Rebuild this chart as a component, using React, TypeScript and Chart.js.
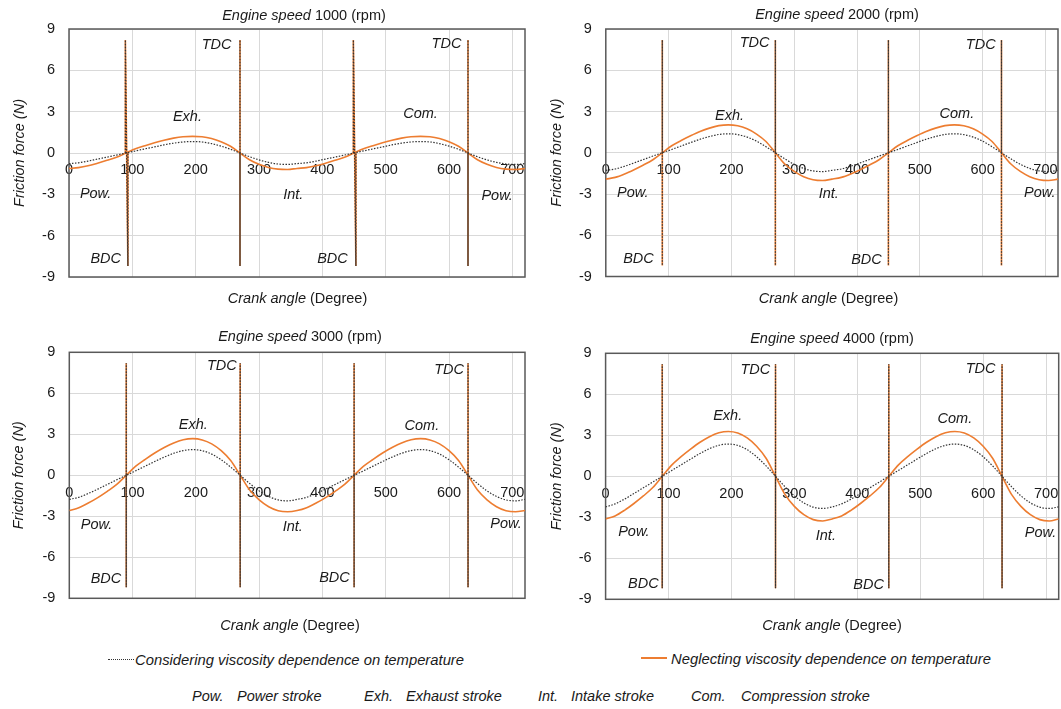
import React, { useEffect, useRef } from 'react';
import { Chart, registerables } from 'chart.js';

Chart.register(...registerables);

const FONT = '"Liberation Sans", Arial, sans-serif';
const FS = 14.5;
const ORANGE = '#ED7D31';
const DOTTED = '#333333';
const GRID = '#d9d9d9';
const TEXT = '#1a1a1a';

// ---------- data ----------
const crankAngles = [
  0, 15, 30, 45, 60, 75, 90, 105, 120, 135, 150, 165, 180, 195, 210, 225, 240, 255, 270, 285, 300, 315, 330, 345, 360,
  375, 390, 405, 420, 435, 450, 465, 480, 495, 510, 525, 540, 555, 570, 585, 600, 615, 630, 645, 660, 675, 690, 705, 720,
];

const engineSpeeds = [1000, 2000, 3000, 4000];

const considering1000 = [
  -0.77, -0.71, -0.59, -0.44, -0.3, -0.15, 0, 0.15, 0.3, 0.44, 0.59, 0.71, 0.8, 0.83, 0.8, 0.68, 0.5, 0.27, 0, -0.27, -0.5, -0.68, -0.8, -0.83, -0.77,
  -0.71, -0.59, -0.44, -0.3, -0.15, 0, 0.15, 0.3, 0.44, 0.59, 0.71, 0.8, 0.83, 0.8, 0.68, 0.5, 0.27, 0, -0.27, -0.5, -0.68, -0.8, -0.83, -0.77,
];
const neglecting1000 = [
  -1.12, -1.06, -0.93, -0.74, -0.53, -0.31, 0, 0.31, 0.53, 0.74, 0.93, 1.08, 1.18, 1.21, 1.18, 1.05, 0.82, 0.49, 0, -0.49, -0.82, -1.05, -1.17, -1.2, -1.12,
  -1.06, -0.93, -0.74, -0.53, -0.31, 0, 0.31, 0.53, 0.74, 0.93, 1.08, 1.18, 1.21, 1.18, 1.05, 0.82, 0.49, 0, -0.49, -0.82, -1.05, -1.17, -1.2, -1.12,
];
const considering2000 = [
  -1.28, -1.18, -0.98, -0.74, -0.49, -0.24, 0, 0.24, 0.49, 0.74, 0.98, 1.18, 1.33, 1.38, 1.32, 1.14, 0.84, 0.44, 0, -0.44, -0.84, -1.14, -1.32, -1.37, -1.28,
  -1.18, -0.98, -0.74, -0.49, -0.24, 0, 0.24, 0.49, 0.74, 0.98, 1.18, 1.33, 1.38, 1.32, 1.14, 0.84, 0.44, 0, -0.44, -0.84, -1.14, -1.32, -1.37, -1.28,
];
const neglecting2000 = [
  -1.92, -1.79, -1.54, -1.23, -0.89, -0.51, 0, 0.51, 0.89, 1.23, 1.54, 1.79, 1.97, 2.03, 1.96, 1.74, 1.36, 0.82, 0, -0.82, -1.36, -1.74, -1.96, -2.02, -1.92,
  -1.79, -1.54, -1.23, -0.89, -0.51, 0, 0.51, 0.89, 1.23, 1.54, 1.79, 1.97, 2.03, 1.96, 1.74, 1.36, 0.82, 0, -0.82, -1.36, -1.74, -1.96, -2.02, -1.92,
];
const considering3000 = [
  -1.76, -1.61, -1.33, -1.01, -0.67, -0.33, 0, 0.33, 0.67, 1.01, 1.33, 1.61, 1.81, 1.88, 1.8, 1.55, 1.14, 0.6, 0, -0.6, -1.14, -1.55, -1.8, -1.87, -1.76,
  -1.61, -1.33, -1.01, -0.67, -0.33, 0, 0.33, 0.67, 1.01, 1.33, 1.61, 1.81, 1.88, 1.8, 1.55, 1.14, 0.6, 0, -0.6, -1.14, -1.55, -1.8, -1.87, -1.76,
];
const neglecting3000 = [
  -2.58, -2.37, -2.03, -1.63, -1.17, -0.67, 0, 0.67, 1.17, 1.63, 2.03, 2.37, 2.6, 2.68, 2.59, 2.3, 1.8, 1.08, 0, -1.08, -1.8, -2.3, -2.59, -2.67, -2.58,
  -2.37, -2.03, -1.63, -1.17, -0.67, 0, 0.67, 1.17, 1.63, 2.03, 2.37, 2.6, 2.68, 2.59, 2.3, 1.8, 1.08, 0, -1.08, -1.8, -2.3, -2.59, -2.67, -2.58,
];
const considering4000 = [
  -2.24, -2.02, -1.67, -1.26, -0.84, -0.42, 0, 0.42, 0.84, 1.26, 1.67, 2.02, 2.27, 2.36, 2.26, 1.94, 1.43, 0.76, 0, -0.76, -1.43, -1.94, -2.26, -2.35, -2.24,
  -2.02, -1.67, -1.26, -0.84, -0.42, 0, 0.42, 0.84, 1.26, 1.67, 2.02, 2.27, 2.36, 2.26, 1.94, 1.43, 0.76, 0, -0.76, -1.43, -1.94, -2.26, -2.35, -2.24,
];
const neglecting4000 = [
  -3.12, -2.9, -2.49, -1.99, -1.44, -0.82, 0, 0.82, 1.44, 1.99, 2.49, 2.9, 3.18, 3.28, 3.17, 2.81, 2.2, 1.32, 0, -1.32, -2.2, -2.81, -3.17, -3.27, -3.12,
  -2.9, -2.49, -1.99, -1.44, -0.82, 0, 0.82, 1.44, 1.99, 2.49, 2.9, 3.18, 3.28, 3.17, 2.81, 2.2, 1.32, 0, -1.32, -2.2, -2.81, -3.17, -3.27, -3.12,
];

// dead-centre markers (vertical spikes in both series)
const spikeTop = 8.2;
const spikeBottom = -8.2;
const spikeAngles1000 = [[89, 93], [270, 270], [449, 453], [630, 630]];
const spikeAnglesOther = [[90, 90], [270, 270], [450, 450], [630, 630]];

// annotation texts inside every panel
const annotationTexts = ['TDC', 'TDC', 'Exh.', 'Com.', 'Pow.', 'Int.', 'Pow.', 'BDC', 'BDC'];

const yTickValues = [-9, -6, -3, 0, 3, 6, 9];
const xTickValues = [0, 100, 200, 300, 400, 500, 600, 700];

// ---------- layout (positions only) ----------
const panels = [
  {
    speed: engineSpeeds[0], considering: considering1000, neglecting: neglecting1000, spikes: spikeAngles1000,
    box: { left: 0, top: 0, width: 530, height: 320 },
    padding: { left: 11.3, top: 29, right: 5, bottom: 43 }, yAxisWidth: 57.7,
    title: { x: 304, y: 16 }, xTitle: { x: 297.5, y: 299 },
    annot: [[233, 7.84], [596, 7.9], [187, 2.64], [555, 2.83], [42, -2.98], [354, -3.05], [676, -3.1], [58, -7.7], [416, -7.7]],
  },
  {
    speed: engineSpeeds[1], considering: considering2000, neglecting: neglecting2000, spikes: spikeAnglesOther,
    box: { left: 530, top: 0, width: 531, height: 320 },
    padding: { left: 18.3, top: 29, right: 3, bottom: 43.5 }, yAxisWidth: 57.5,
    title: { x: 307, y: 15 }, xTitle: { x: 298.5, y: 299 },
    annot: [[237, 7.97], [597, 7.85], [197, 2.7], [559, 2.82], [43, -2.96], [355, -3.0], [691, -2.96], [52, -7.7], [415, -7.82]],
  },
  {
    speed: engineSpeeds[2], considering: considering3000, neglecting: neglecting3000, spikes: spikeAnglesOther,
    box: { left: 0, top: 320, width: 530, height: 320 },
    padding: { left: 9.9, top: 32.3, right: 5, bottom: 41.7 }, yAxisWidth: 59.4,
    title: { x: 300, y: 16.7 }, xTitle: { x: 290, y: 306 },
    annot: [[241, 8.02], [600, 7.73], [196, 3.71], [557, 3.64], [43, -3.66], [353, -3.78], [690, -3.53], [58, -7.58], [419, -7.5]],
  },
  {
    speed: engineSpeeds[3], considering: considering4000, neglecting: neglecting4000, spikes: spikeAnglesOther,
    box: { left: 530, top: 320, width: 531, height: 320 },
    padding: { left: 18.3, top: 33.3, right: 2.3, bottom: 40.7 }, yAxisWidth: 57.3,
    title: { x: 302, y: 19 }, xTitle: { x: 302, y: 305.7 },
    annot: [[238, 7.81], [596, 7.86], [194, 4.4], [555, 4.16], [45, -4.06], [350, -4.38], [691, -4.18], [60, -7.9], [418, -7.96]],
  },
];

function drawMixed(ctx: CanvasRenderingContext2D, parts: [string, string][], cx: number, cy: number) {
  let total = 0;
  const widths = parts.map(([t, f]) => {
    ctx.font = f;
    const w = ctx.measureText(t).width;
    total += w;
    return w;
  });
  let x = cx - total / 2;
  ctx.textBaseline = 'middle';
  ctx.textAlign = 'left';
  parts.forEach(([t, f], i) => {
    ctx.font = f;
    ctx.fillText(t, x, cy);
    x += widths[i];
  });
}

function Panel({ cfg }: { cfg: any }) {
  const ref = useRef<HTMLCanvasElement>(null);
  useEffect(() => {
    const canvas = ref.current!;
    const toPts = (ys: number[]) => crankAngles.map((x, i) => ({ x, y: ys[i] }));
    const spikePts: any[] = [];
    cfg.spikes.forEach(([a1, a2]: number[]) => {
      spikePts.push({ x: a1, y: 0 }, { x: a1, y: spikeTop }, { x: a2, y: spikeBottom }, { x: a2, y: 0 }, { x: a2, y: null });
    });

    const framePlugin = {
      id: 'frame',
      beforeDatasetsDraw(chart: any) {
        const { ctx, chartArea: a } = chart;
        ctx.save();
        ctx.strokeStyle = '#595959';
        ctx.lineWidth = 1.5;
        ctx.strokeRect(a.left, a.top, a.right - a.left, a.bottom - a.top);
        ctx.restore();
      },
      afterDatasetsDraw(chart: any) {
        const { ctx } = chart;
        const xs = chart.scales.x;
        const ys = chart.scales.y;
        ctx.save();
        ctx.fillStyle = TEXT;
        ctx.font = `italic ${FS}px ${FONT}`;
        ctx.textAlign = 'center';
        ctx.textBaseline = 'middle';
        cfg.annot.forEach(([ax, ay]: number[], i: number) => {
          ctx.fillText(annotationTexts[i], xs.getPixelForValue(ax), ys.getPixelForValue(ay));
        });
        ctx.restore();
      },
      afterDraw(chart: any) {
        const { ctx } = chart;
        ctx.save();
        ctx.fillStyle = TEXT;
        drawMixed(ctx, [
          ['Engine speed ', `italic ${FS}px ${FONT}`],
          [`${cfg.speed} (rpm)`, `${FS}px ${FONT}`],
        ], cfg.title.x, cfg.title.y);
        drawMixed(ctx, [
          ['Crank angle ', `italic ${FS}px ${FONT}`],
          ['(Degree)', `${FS}px ${FONT}`],
        ], cfg.xTitle.x, cfg.xTitle.y);
        ctx.restore();
      },
    };

    const lineBase = { pointRadius: 0, pointHoverRadius: 0, fill: false };
    const chart = new Chart(canvas, {
      type: 'line',
      data: {
        datasets: [
          { ...lineBase, label: 'Considering viscosity dependence on temperature', data: spikePts, borderColor: DOTTED, borderWidth: 1.2, borderDash: [1.5, 1.5], tension: 0, spanGaps: false },
          { ...lineBase, label: 'Considering viscosity dependence on temperature', data: toPts(cfg.considering), borderColor: DOTTED, borderWidth: 1.2, borderDash: [1.5, 1.5], cubicInterpolationMode: 'monotone' },
          { ...lineBase, label: 'Neglecting viscosity dependence on temperature', data: spikePts, borderColor: ORANGE, borderWidth: 1.6, tension: 0, spanGaps: false },
          { ...lineBase, label: 'Neglecting viscosity dependence on temperature', data: toPts(cfg.neglecting), borderColor: ORANGE, borderWidth: 1.6, cubicInterpolationMode: 'monotone' },
        ],
      } as any,
      options: {
        animation: false,
        responsive: false,
        maintainAspectRatio: false,
        events: [],
        layout: { padding: cfg.padding },
        plugins: { legend: { display: false }, tooltip: { enabled: false } },
        scales: {
          y: {
            type: 'linear',
            position: 'left',
            min: yTickValues[0],
            max: yTickValues[yTickValues.length - 1],
            afterBuildTicks: (s: any) => { s.ticks = yTickValues.map((v) => ({ value: v })); },
            ticks: { padding: 14, color: TEXT, font: { family: FONT, size: FS } },
            grid: { color: GRID, lineWidth: 1, drawTicks: false },
            border: { display: false },
            title: { display: true, text: 'Friction force (N)', color: TEXT, padding: 0, font: { family: FONT, size: FS, style: 'italic' } },
            afterFit: (s: any) => { s.width = cfg.yAxisWidth; },
          },
          x: {
            type: 'linear',
            position: { y: 0 },
            min: 0,
            max: 720,
            afterBuildTicks: (s: any) => { s.ticks = xTickValues.map((v) => ({ value: v })); },
            ticks: { padding: 8.5, color: TEXT, maxRotation: 0, autoSkip: false, font: { family: FONT, size: FS } },
            grid: { color: GRID, lineWidth: 1, drawTicks: false },
            border: { display: false },
            afterFit: (s: any) => { s.height = 0; s.paddingLeft = 0; s.paddingRight = 0; },
          },
        },
      } as any,
      plugins: [framePlugin],
    });
    return () => chart.destroy();
  }, [cfg]);

  return (
    <canvas
      ref={ref}
      width={cfg.box.width}
      height={cfg.box.height}
      style={{ position: 'absolute', left: cfg.box.left, top: cfg.box.top, width: cfg.box.width, height: cfg.box.height }}
    />
  );
}

const legendStyle: React.CSSProperties = {
  position: 'absolute', fontFamily: FONT, fontStyle: 'italic', fontSize: FS, color: TEXT, whiteSpace: 'nowrap', lineHeight: '16px',
};
const seriesLegendStyle: React.CSSProperties = { ...legendStyle, fontSize: 14.8 };

const strokeKeys = [
  { abbr: 'Pow.', name: 'Power stroke', ax: 192, nx: 237 },
  { abbr: 'Exh.', name: 'Exhaust stroke', ax: 364, nx: 406 },
  { abbr: 'Int.', name: 'Intake stroke', ax: 538, nx: 571 },
  { abbr: 'Com.', name: 'Compression stroke', ax: 691, nx: 741 },
];

export default function App() {
  return (
    <div style={{ position: 'absolute', left: 0, top: 0, width: 1061, height: 709, background: '#fff', overflow: 'hidden' }}>
      {panels.map((p, i) => <Panel key={i} cfg={p} />)}
      <div style={{ position: 'absolute', left: 108, top: 659, width: 26, height: 0, borderTop: `1.5px dotted ${DOTTED}` }} />
      <div style={{ ...seriesLegendStyle, left: 135, top: 652 }}>Considering viscosity dependence on temperature</div>
      <div style={{ position: 'absolute', left: 641, top: 657, width: 26, height: 2, background: ORANGE }} />
      <div style={{ ...seriesLegendStyle, left: 671, top: 651 }}>Neglecting viscosity dependence on temperature</div>
      {strokeKeys.map((k) => (
        <React.Fragment key={k.abbr}>
          <div style={{ ...legendStyle, left: k.ax, top: 688 }}>{k.abbr}</div>
          <div style={{ ...legendStyle, left: k.nx, top: 688 }}>{k.name}</div>
        </React.Fragment>
      ))}
    </div>
  );
}
